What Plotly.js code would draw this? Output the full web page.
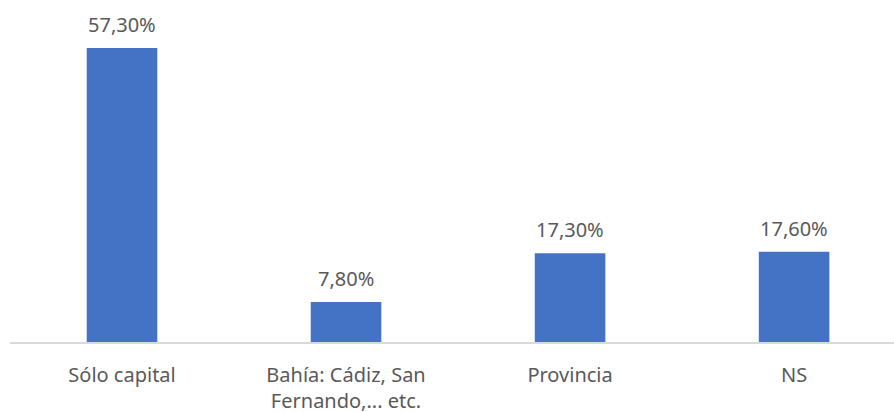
<!DOCTYPE html>
<html>
<head>
<meta charset="utf-8">
<script src="https://cdn.plot.ly/plotly-3.0.1.min.js"></script>
<style>html,body{margin:0;padding:0;background:#fff}#chart{width:894px;height:412px}</style>
</head>
<body>
<div id="chart"></div>
<script>
const categories = ["Sólo capital", "Bahía: Cádiz, San<br>Fernando,... etc.", "Provincia", "NS"];
const values = [57.3, 7.8, 17.3, 17.6];
const valueLabels = ["57,30%", "7,80%", "17,30%", "17,60%"];

const FONT = '"Noto Sans", "Open Sans", sans-serif';

const trace = {
  type: 'bar',
  x: categories,
  y: values,
  marker: {color: '#4472C4'},
  width: 0.315,
  hoverinfo: 'none'
};

const annotations = categories.map((c, i) => ({
  x: c, y: values[i], xref: 'x', yref: 'y',
  text: valueLabels[i], showarrow: false,
  yanchor: 'bottom', yshift: 8,
  font: {family: FONT, size: 20, color: '#595959'}
}));

const layout = {
  width: 894, height: 412,
  margin: {l: 10, r: 0, t: 10, b: 70},
  paper_bgcolor: '#fff', plot_bgcolor: '#fff',
  showlegend: false,
  font: {family: FONT, size: 20, color: '#595959'},
  annotations: annotations,
  xaxis: {
    range: [-0.5, 3.446],
    showgrid: false, zeroline: false,
    showline: true, linecolor: '#d9d9d9', linewidth: 1.5,
    ticks: '', tickfont: {family: FONT, size: 20, color: '#595959'},
    ticklabelstandoff: 14
  },
  yaxis: {
    range: [0, 64.7],
    visible: false, showgrid: false, zeroline: false
  }
};

Plotly.newPlot('chart', [trace], layout, {displayModeBar: false, staticPlot: true});
</script>
</body>
</html>
